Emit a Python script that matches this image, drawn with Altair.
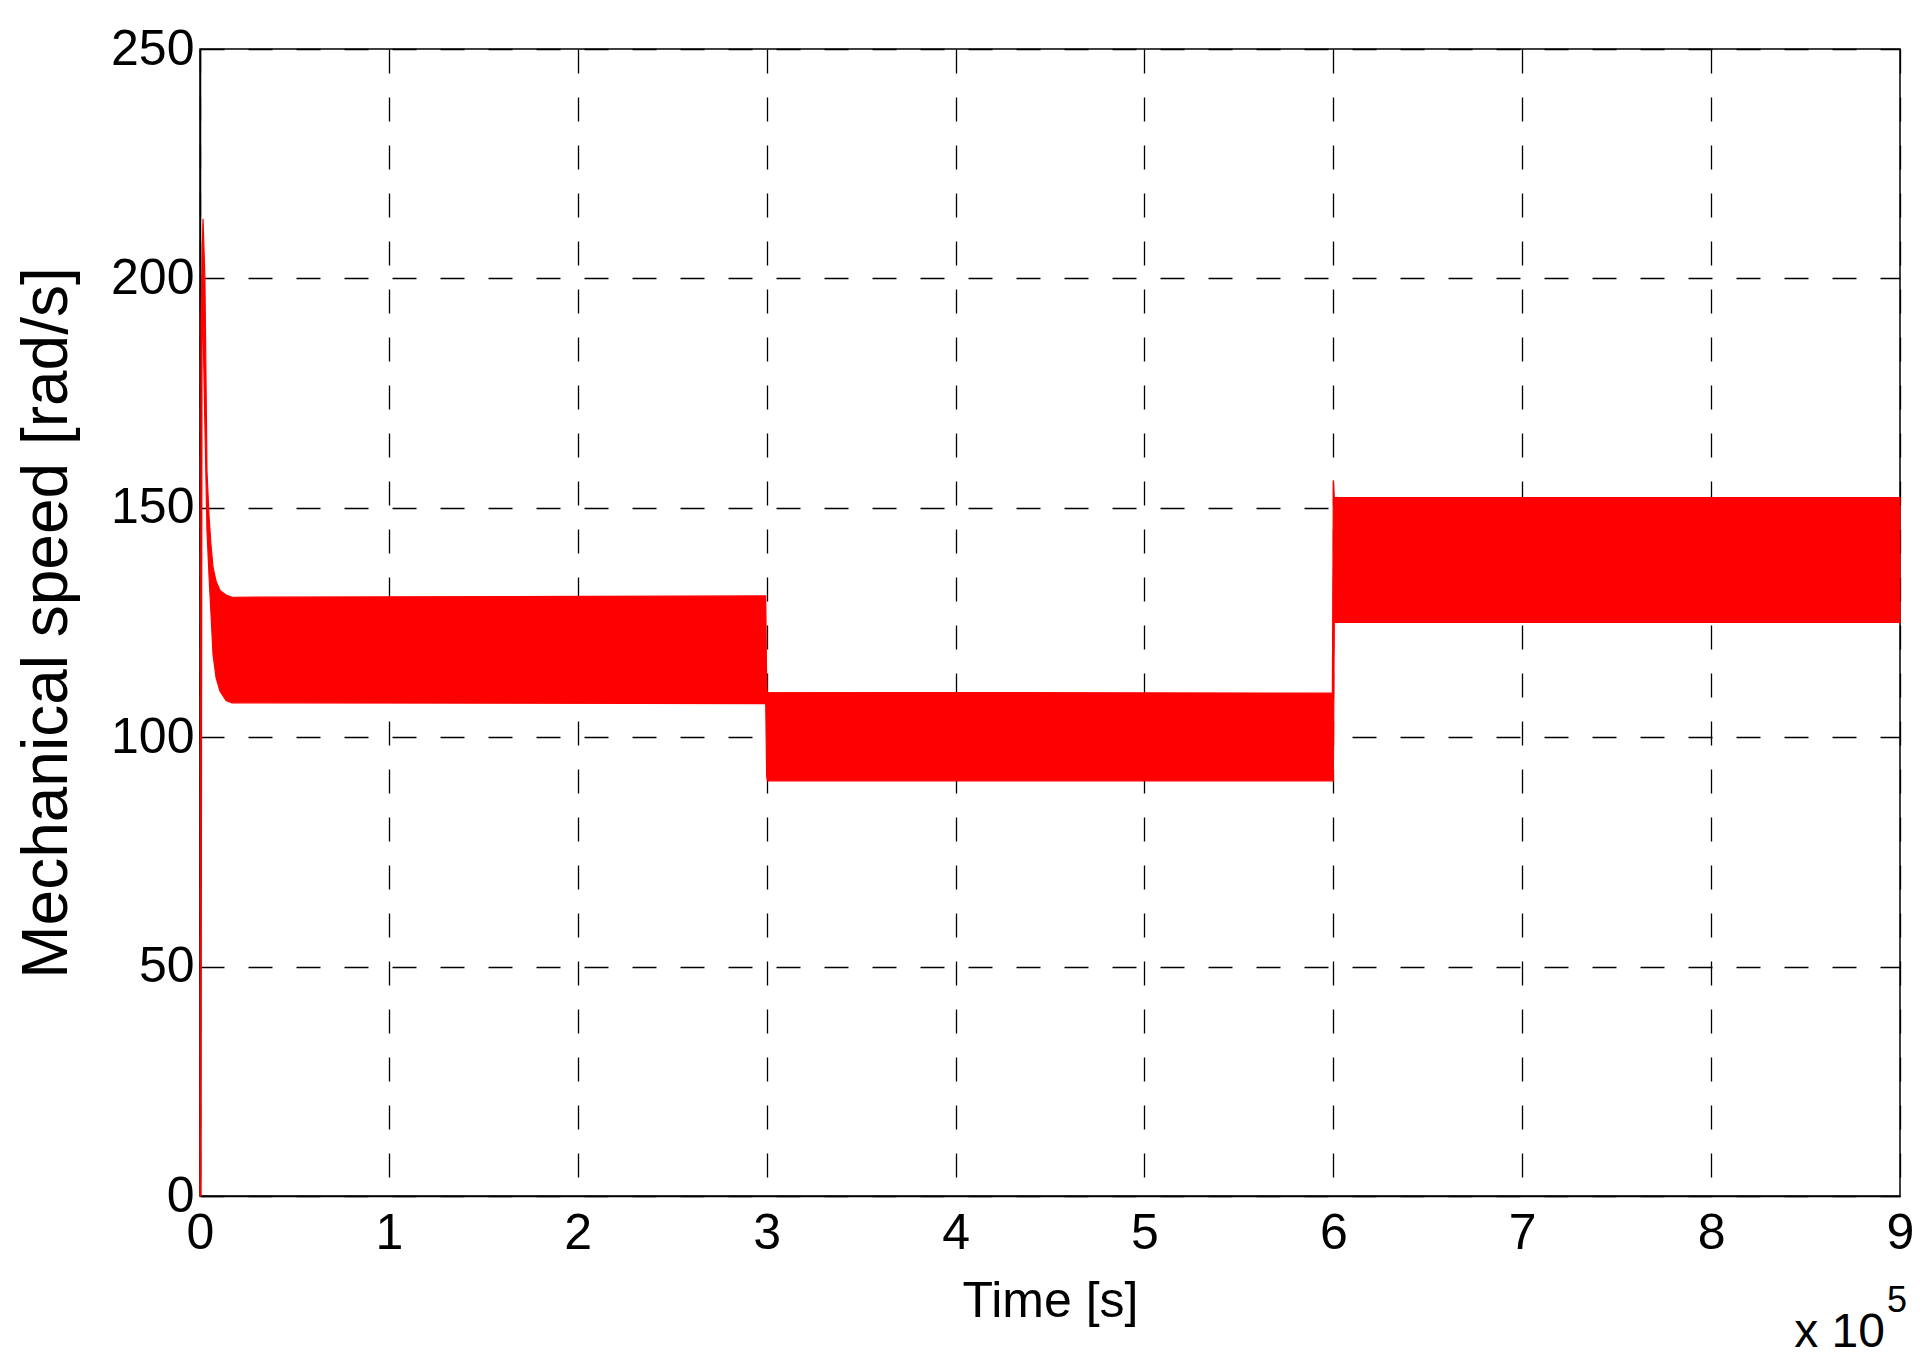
import altair as alt
import pandas as pd

# Envelope of the mechanical speed trace (time in units of 1e5 s)
time_e5 = [0.0, 0.005, 0.011, 0.016, 0.026, 0.037, 0.048, 0.058, 0.069, 0.085, 0.106, 0.138, 0.17,
           2.995, 3.0, 3.004, 5.995, 6.0, 6.005, 9.0]
speed_upper = [0, 190, 205, 213, 200, 158, 148, 142, 137, 134, 132, 131, 130.5,
               130.8, 110.8, 109.8, 109.6, 156, 152.2, 152.2]
speed_lower = [0, 0, 190, 190, 168, 145, 135, 127, 118, 113, 110, 108, 107.5,
               107.3, 91.5, 90.5, 90.5, 90.5, 125, 125]

x_ticks = [0, 1, 2, 3, 4, 5, 6, 7, 8, 9]
y_ticks = [0, 50, 100, 150, 200, 250]

x_title = "Time [s]"
y_title = "Mechanical speed [rad/s]"
exp_base = ["x 10"]
exp_power = ["5"]

FONT = "Liberation Sans, Arial, sans-serif"

df = pd.DataFrame({"t": time_e5, "hi": speed_upper, "lo": speed_lower})

band = alt.Chart(df).mark_area(
    color="#ff0000", stroke="#ff0000", strokeWidth=1.2, opacity=1
).encode(
    x=alt.X("t:Q",
            scale=alt.Scale(domain=[0, 9], nice=False, zero=False),
            axis=alt.Axis(values=x_ticks, format="d", title=x_title,
                          labelFont=FONT, labelFontSize=50, labelPadding=12,
                          labelFlush=False, labelOverlap=False,
                          titleFont=FONT, titleFontSize=50, titlePadding=18)),
    y=alt.Y("hi:Q",
            scale=alt.Scale(domain=[0, 250], nice=False),
            axis=alt.Axis(values=y_ticks, format="d", title=y_title,
                          labelFont=FONT, labelFontSize=50, labelPadding=6,
                          labelOverlap=False, labelFlush=False,
                          titleFont=FONT, titleFontSize=64, titlePadding=31)),
    y2="lo:Q",
)

base_txt = alt.Chart(pd.DataFrame({"s": exp_base})).mark_text(
    font=FONT, fontSize=48, align="right", baseline="alphabetic", color="black"
).encode(x=alt.value(1685), y=alt.value(1298), text="s:N")

pow_txt = alt.Chart(pd.DataFrame({"s": exp_power})).mark_text(
    font=FONT, fontSize=36, align="left", baseline="alphabetic", color="black"
).encode(x=alt.value(1687), y=alt.value(1263), text="s:N")

chart = alt.layer(band, base_txt, pow_txt).properties(
    width=1700, height=1147,
    autosize=alt.AutoSizeParams(type="none"),
    padding={"left": 192, "top": 41, "right": 21, "bottom": 175},
    background="white",
).configure_view(
    stroke="black", strokeWidth=1.5
).configure_axis(
    domainColor="black", domainWidth=1.5,
    grid=True, gridColor="black", gridDash=[24, 24], gridWidth=1.3, gridOpacity=1,
    ticks=False, labelColor="black", titleColor="black",
    titleFontWeight="normal", labelFontWeight="normal",
)

chart.save("out.html", embed_options={"renderer": "svg", "actions": False})
